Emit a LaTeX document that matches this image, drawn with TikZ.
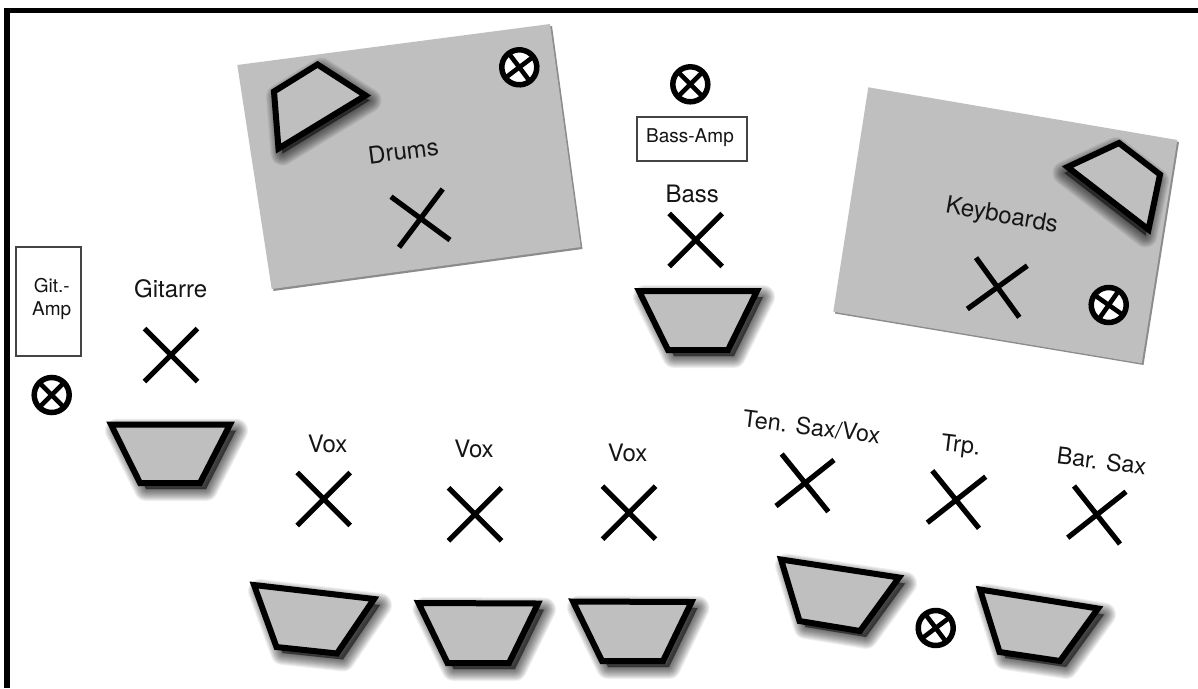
\documentclass[tikz,border=0pt]{standalone}
\usepackage{fontspec}
\setmainfont{TeX Gyre Heros}
\definecolor{stagegray}{HTML}{BFBFBF}
\definecolor{stageedge}{HTML}{8C8C8C}
\definecolor{inktext}{HTML}{151515}
\definecolor{boxedge}{HTML}{444444}
\tikzset{
  x=1pt,y=-1pt,
  frameline/.style={line width=5.8pt,black},
  riser/.style={fill=stagegray,draw=none},
  riseredge/.style={fill=stageedge,draw=none},
  wedge/.style={fill=stagegray,draw=black,line width=6pt,miter limit=10,line join=miter},
  wedgeshade/.style={fill=black,draw=black,fill opacity=.06,draw opacity=.06,line join=round},
  crossline/.style={draw=black,line width=5.2pt},
  spkring/.style={draw=black,fill=white,line width=5.5pt},
  spkcross/.style={draw=black,line width=4.6pt},
  ampbox/.style={draw=boxedge,line width=1.7pt,fill=white},
  lab/.style={text=inktext,inner sep=0pt,font=\fontsize{24pt}{26pt}\selectfont},
  hornlab/.style={text=inktext,inner sep=0pt,font=\fontsize{23.3pt}{26pt}\selectfont},
  smalllab/.style={text=inktext,inner sep=0pt,font=\fontsize{19pt}{23pt}\selectfont},
}
\newcommand{\stagewedge}[2]{%
  \begin{scope}[shift={#2}]
    \foreach \w in {24,22,20,18,16,14,12,10,8,6,4,2}{\draw[wedgeshade,line width=\w pt] #1 -- cycle;}
  \end{scope}
  \draw[wedge] #1 -- cycle;
}
\newcommand{\stagespk}[3]{%
  \begin{scope}[shift={(#1,#2)},rotate=#3]
    \draw[spkring] (0,0) circle[radius=17.5];
    \draw[spkcross] (-12.4,-12.4) -- (12.4,12.4) (-12.4,12.4) -- (12.4,-12.4);
  \end{scope}
}
\newcommand{\stagex}[8]{\draw[crossline] (#1,#2) -- (#3,#4) (#5,#6) -- (#7,#8);}
\newcommand{\uprightx}[2]{\draw[crossline] (#1-26.5,#2-26.5) -- (#1+26.5,#2+26.5) (#1-26.5,#2+26.5) -- (#1+26.5,#2-26.5);}
\begin{document}
\begin{tikzpicture}
\useasboundingbox (0,0) rectangle (1198,688);
\fill[white] (0,0) rectangle (1198,688);
% frame: only top and left sides show
\draw[frameline] (4.5,10.5) -- (1198,10.5);
\draw[frameline] (7.3,7.5) -- (7.3,688);

% drum riser
\fill[riseredge] (239,67) -- (552,26) -- (582.5,249) -- (273.5,291) -- cycle;
\fill[riser] (237.3,65) -- (550,24) -- (580.7,247) -- (271.7,289) -- cycle;
\stagewedge{(274,91.5) -- (317.5,64.5) -- (365.5,95.5) -- (278.5,148.5)}{(4,5)}
\stagespk{519.3}{67.3}{-8}
\node[lab,rotate=7.5] (drums) at (403.3,151) {Drums};
\stagex{391}{196.7}{450}{240}{442.7}{189}{399}{247.3}

% keyboard riser
\fill[riseredge] (835,313.5) -- (870,89) -- (1179,142) -- (1143.5,365) -- cycle;
\fill[riser] (868.3,87.3) -- (1177.3,140) -- (1141.7,363.3) -- (833.3,311.7) -- cycle;
\stagewedge{(1067.5,167) -- (1119,143) -- (1160,174.5) -- (1148.5,229.5)}{(-3,6)}
\stagespk{1108.7}{305}{10}
\node[lab,rotate=-10] (keys) at (1001.7,216.7) {Keyboards};
\stagex{976}{257.7}{1019.3}{317.3}{967.3}{309}{1027.3}{265.7}

% bass
\stagespk{690.3}{84.3}{0}
\node[ampbox,minimum width=109.4pt,minimum height=44pt,inner sep=0pt] (bassamp) at (692,138.7) {};
\node[smalllab] (bassamptext) at (690,137.7) {Bass-Amp};
\node[lab] (bass) at (692.3,194.3) {Bass};
\uprightx{695.7}{240}
\stagewedge{(639,291) -- (757,291) -- (728,350) -- (668,350)}{(6,6)}

% guitar
\node[ampbox,minimum width=65.3pt,minimum height=108.7pt,inner sep=0pt] (gitamp) at (48.35,301.65) {};
\node[smalllab,align=center] (gitamptext) at (51.7,299.2) {Git.-\\Amp};
\stagespk{51.7}{395}{0}
\node[lab] (gitarre) at (170.7,288.3) {Gitarre};
\uprightx{171}{355}
\stagewedge{(111,424.5) -- (230,424.5) -- (200,483) -- (140,483)}{(6,6)}

% vox
\node[lab] (vox1) at (327.7,444.3) {Vox};
\uprightx{323.7}{499}
\stagewedge{(254,585) -- (374,599) -- (337,653.5) -- (276.5,647)}{(6,6)}
\node[lab] (vox2) at (474,449.3) {Vox};
\uprightx{475}{514.3}
\stagewedge{(418.5,603) -- (538,603.5) -- (509,663) -- (447.5,663)}{(6,6)}
\node[lab] (vox3) at (627.7,453.3) {Vox};
\uprightx{629}{512.7}
\stagewedge{(573,601.5) -- (691.5,602) -- (663,661) -- (602,661)}{(6,6)}

% horns
\node[hornlab,rotate=-7] (tensax) at (811.7,426.7) {Ten. Sax/Vox};
\stagex{781.7}{454}{828.3}{511.7}{776}{506}{834}{460}
\node[hornlab,rotate=-7] (trp) at (960.7,446.7) {Trp.};
\stagex{932.3}{470.7}{979}{528.3}{927.3}{522.7}{985.7}{476.7}
\node[hornlab,rotate=-7] (barsax) at (1101.7,461) {Bar. Sax};
\stagex{1074}{486}{1120}{544}{1067.7}{537.7}{1126}{491.7}
\stagewedge{(781,559.5) -- (899,577.5) -- (860,631) -- (799.5,621)}{(6,6)}
\stagespk{935.7}{628}{-8}
\stagewedge{(980,589.5) -- (1098,608.5) -- (1060,661) -- (999.5,652)}{(6,6)}
\end{tikzpicture}
\end{document}
